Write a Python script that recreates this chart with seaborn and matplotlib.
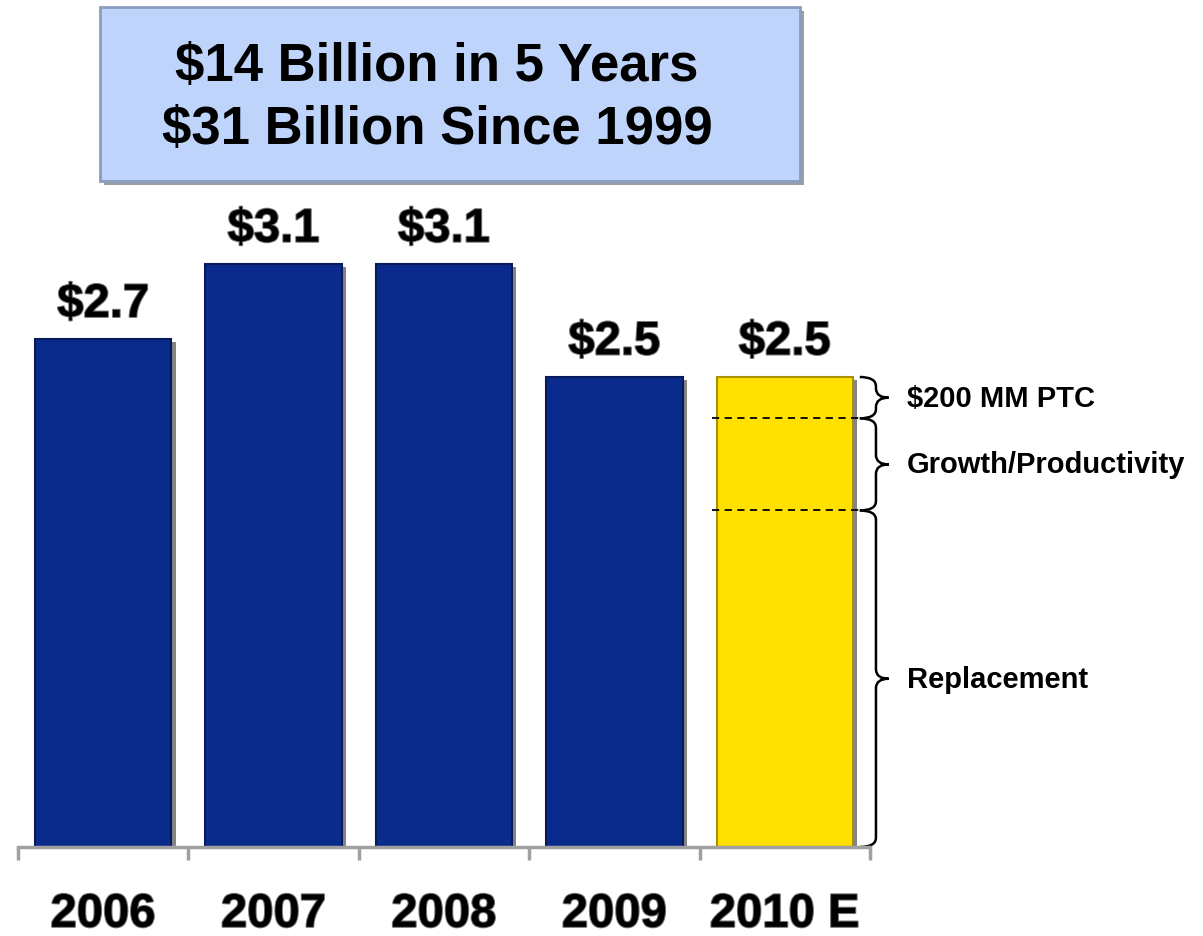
import matplotlib
matplotlib.use("Agg")
import matplotlib.pyplot as plt
import matplotlib.patheffects as pe
from matplotlib.path import Path
from matplotlib.patches import PathPatch, FancyBboxPatch
import seaborn as sns
import numpy as np

# =============================================================================
# data
years = ["2006", "2007", "2008", "2009", "2010 E"]
capex = [2.7, 3.1, 3.1, 2.5, 2.5]
value_labels = ["$2.7", "$3.1", "$3.1", "$2.5", "$2.5"]
bar_colors = ["#0A2B8C", "#0A2B8C", "#0A2B8C", "#0A2B8C", "#FFE000"]

# breakdown of the 2010 estimate (bottom -> top)
seg_names = ["Replacement", "Growth/Productivity", "$200 MM PTC"]
seg_values = [1.79, 0.49, 0.22]

title_lines = ["$14 Billion in 5 Years", "$31 Billion Since 1999"]
# =============================================================================

sns.set_style("white")
plt.rcParams["font.family"] = ["Liberation Sans", "DejaVu Sans"]
plt.rcParams["text.parse_math"] = False
plt.rcParams["text.color"] = "black"
plt.rcParams["xtick.color"] = "black"
plt.rcParams["xtick.labelcolor"] = "black"

fig = plt.figure(figsize=(12.03, 9.37), dpi=100)
ax = fig.add_axes([18 / 1203, 89 / 937, 852 / 1203, 846 / 937])

sns.barplot(x=years, y=capex, hue=years, palette=bar_colors, legend=False,
            width=0.8, ax=ax, saturation=1, zorder=2)

for p, c in zip(ax.patches, bar_colors):
    edge = "#061A5C" if c != "#FFE000" else "#A89000"
    p.set_edgecolor(edge)
    p.set_linewidth(1.5)
    p.set_path_effects([pe.SimplePatchShadow(offset=(3, -2), shadow_rgbFace="#333333", alpha=0.6),
                        pe.Normal()])

ax.set_xlim(-0.5, 4.5)
ax.set_ylim(0, 4.5)

# value labels
for i, (v, lab) in enumerate(zip(capex, value_labels)):
    ax.annotate(lab, (i, v), xytext=(0, 9), textcoords="offset points",
                ha="center", va="bottom", fontsize=34, fontweight="bold", color="black",
                path_effects=[pe.withStroke(linewidth=1.5, foreground="#777777")])

# axis styling
sns.despine(ax=ax, left=True, top=True, right=True)
ax.spines["bottom"].set_color("#A0A0A0")
ax.spines["bottom"].set_linewidth(2.5)
ax.set_yticks([])
ax.set_xticks(range(len(years)))
ax.set_xticklabels(years, fontsize=34, fontweight="bold", color="black")
ax.tick_params(axis="x", which="major", length=0, pad=33)
for t in ax.get_xticklabels():
    t.set_path_effects([pe.withStroke(linewidth=1.5, foreground="#777777")])
ax.set_xticks(np.arange(-0.5, len(years)), minor=True)
ax.tick_params(axis="x", which="minor", bottom=True, length=9, width=2.5,
               color="#A0A0A0", direction="out")
ax.set_xlabel("")
ax.set_ylabel("")

# breakdown of 2010 bar: dashed separators + braces
last = len(years) - 1
bounds = np.concatenate([[0], np.cumsum(seg_values)])
for b in bounds[1:-1]:
    ax.hlines(b, last - 0.43, last + 0.45, colors="black", linestyles=(0, (4, 3)),
              linewidth=1.3, zorder=4)


def brace(ax, y0, y1, xl=4.44, xs=4.535, xt=4.61, r=0.05):
    ym = (y0 + y1) / 2
    r = min(r, (y1 - y0) / 4)
    verts = [(xl, y1), (xs, y1), (xs, y1 - r), (xs, ym + r), (xs, ym), (xt, ym),
             (xt, ym), (xs, ym), (xs, ym - r), (xs, y0 + r), (xs, y0), (xl, y0)]
    codes = [Path.MOVETO, Path.CURVE3, Path.CURVE3, Path.LINETO, Path.CURVE3, Path.CURVE3,
             Path.MOVETO, Path.CURVE3, Path.CURVE3, Path.LINETO, Path.CURVE3, Path.CURVE3]
    patch = PathPatch(Path(verts, codes), fill=False, lw=1.8, color="black", clip_on=False)
    ax.add_patch(patch)
    return ym


for name, y0, y1 in zip(seg_names, bounds[:-1], bounds[1:]):
    ym = brace(ax, y0, y1)
    ax.text(4.715, ym, name, ha="left", va="center", fontsize=21, fontweight="bold",
            color="black", clip_on=False)

# title box
box = FancyBboxPatch((100 / 1203, 1 - 182 / 937), 700 / 1203, 174 / 937,
                     boxstyle="square,pad=0", transform=fig.transFigure,
                     facecolor="#BFD4FA", edgecolor="#8A9CC0", linewidth=2,
                     path_effects=[pe.SimplePatchShadow(offset=(3, -3), alpha=0.5), pe.Normal()])
fig.patches.append(box)
fig.text(437 / 1203, 1 - 67 / 937, title_lines[0], ha="center", va="center",
         fontsize=38, fontweight="bold", color="black")
fig.text(437 / 1203, 1 - 130 / 937, title_lines[1], ha="center", va="center",
         fontsize=38, fontweight="bold", color="black")

fig.savefig("out.png", dpi=100)
